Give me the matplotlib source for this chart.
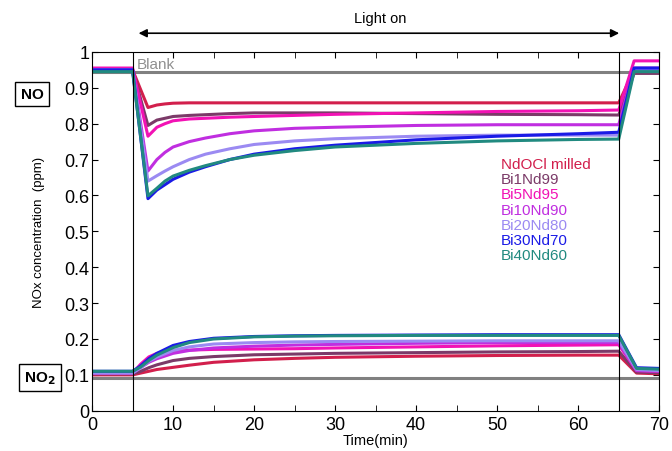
import matplotlib
matplotlib.use("Agg")
import matplotlib.pyplot as plt
from matplotlib.ticker import MultipleLocator

plt.rcParams["font.family"] = ["Liberation Sans", "DejaVu Sans"]

# sample names and colours
names = ["NdOCl milled", "Bi1Nd99", "Bi5Nd95", "Bi10Nd90", "Bi20Nd80", "Bi30Nd70", "Bi40Nd60"]
colors = ["#d21f4c", "#7b3a68", "#f212b4", "#c02ee0", "#9b8af2", "#1a1ae6", "#218a80"]

# NO trace (ppm)
t_no = [0, 5, 6.9, 8, 9, 10, 12, 14, 17, 20, 25, 30, 40, 50, 60, 65, 66.9, 70]
no_vals = [
    [0.950, 0.950, 0.845, 0.852, 0.855, 0.857, 0.858, 0.858, 0.858, 0.858, 0.858, 0.858, 0.858, 0.858, 0.858, 0.858, 0.950, 0.950],
    [0.950, 0.950, 0.795, 0.810, 0.815, 0.820, 0.823, 0.825, 0.828, 0.830, 0.830, 0.830, 0.828, 0.826, 0.825, 0.824, 0.940, 0.940],
    [0.955, 0.955, 0.765, 0.790, 0.800, 0.808, 0.813, 0.815, 0.818, 0.820, 0.823, 0.826, 0.830, 0.834, 0.836, 0.838, 0.975, 0.975],
    [0.950, 0.950, 0.668, 0.700, 0.720, 0.735, 0.750, 0.760, 0.772, 0.780, 0.787, 0.790, 0.795, 0.797, 0.797, 0.797, 0.955, 0.955],
    [0.950, 0.950, 0.640, 0.655, 0.668, 0.680, 0.700, 0.715, 0.730, 0.742, 0.752, 0.758, 0.765, 0.768, 0.768, 0.768, 0.950, 0.950],
    [0.950, 0.950, 0.591, 0.615, 0.630, 0.645, 0.665, 0.680, 0.700, 0.715, 0.730, 0.740, 0.755, 0.765, 0.772, 0.776, 0.955, 0.955],
    [0.945, 0.945, 0.599, 0.620, 0.640, 0.654, 0.670, 0.683, 0.700, 0.712, 0.725, 0.735, 0.745, 0.752, 0.756, 0.757, 0.945, 0.945],
]

# NO2 trace (ppm)
t_no2 = [0, 5, 6, 7, 8, 10, 12, 15, 20, 25, 30, 40, 50, 60, 65, 67.2, 70]
no2_vals = [
    [0.100, 0.100, 0.105, 0.110, 0.115, 0.121, 0.127, 0.135, 0.142, 0.146, 0.149, 0.152, 0.154, 0.155, 0.155, 0.105, 0.103],
    [0.103, 0.103, 0.110, 0.120, 0.128, 0.140, 0.146, 0.151, 0.156, 0.158, 0.160, 0.162, 0.164, 0.165, 0.166, 0.108, 0.106],
    [0.105, 0.105, 0.130, 0.150, 0.160, 0.167, 0.169, 0.171, 0.172, 0.173, 0.175, 0.178, 0.181, 0.183, 0.184, 0.112, 0.110],
    [0.105, 0.105, 0.120, 0.135, 0.145, 0.160, 0.168, 0.175, 0.180, 0.183, 0.185, 0.188, 0.190, 0.190, 0.190, 0.112, 0.110],
    [0.105, 0.105, 0.120, 0.138, 0.150, 0.168, 0.178, 0.186, 0.190, 0.192, 0.193, 0.194, 0.195, 0.195, 0.195, 0.115, 0.112],
    [0.110, 0.110, 0.125, 0.145, 0.160, 0.182, 0.193, 0.202, 0.207, 0.209, 0.210, 0.211, 0.212, 0.212, 0.212, 0.120, 0.118],
    [0.110, 0.110, 0.122, 0.140, 0.155, 0.176, 0.190, 0.200, 0.206, 0.208, 0.209, 0.210, 0.210, 0.210, 0.210, 0.118, 0.116],
]

# blank run
t_blank = [0, 70]
blank_no = [0.943, 0.943]
blank_no2 = [0.090, 0.090]

light_on = 5
light_off = 65

fig = plt.figure(figsize=(6.72, 4.52), dpi=100)
ax = fig.add_axes([0.137, 0.089, 0.844, 0.794])

ax.plot(t_blank, blank_no, color="#808080", lw=2.2)
ax.plot(t_blank, blank_no2, color="#808080", lw=2.2)
for vals, c in zip(no_vals, colors):
    ax.plot(t_no, vals, color=c, lw=2.2)
for vals, c in zip(no2_vals, colors):
    ax.plot(t_no2, vals, color=c, lw=2.2)

ax.axvline(light_on, color="black", lw=0.8)
ax.axvline(light_off, color="black", lw=0.8)

ax.set_xlim(0, 70)
ax.set_ylim(0, 1)
ax.xaxis.set_minor_locator(MultipleLocator(5))
ax.tick_params(which="both", direction="in", top=True, right=True, labelsize=13, length=4, pad=2)
ax.tick_params(axis="x", pad=4)
ax.set_xticks(range(0, 71, 10))
ax.set_xticklabels([str(v) for v in range(0, 71, 10)])
ax.set_yticks([i / 10 for i in range(11)])
ax.set_yticklabels([f"{i / 10:g}" for i in range(11)])

ax.set_xlabel("Time(min)", fontsize=10.5, labelpad=0)
ax.set_ylabel("NOx concentration  (ppm)", fontsize=9.5, labelpad=14)

ax.text(5.5, 0.965, "Blank", color="#909090", fontsize=11, va="center")

for i, (n, c) in enumerate(zip(names, colors)):
    ax.text(50.5, 0.688 - i * 0.0425, n, color=c, fontsize=11, va="center")

# light-on arrow above the plot
ax.annotate("", xy=(light_on + 0.4, 1.052), xytext=(light_off + 0.4, 1.052),
            arrowprops=dict(arrowstyle="<|-|>", color="black", lw=1.2, mutation_scale=12),
            annotation_clip=False)
ax.text(35.5, 1.095, "Light on", fontsize=10.5, ha="center", va="center")

box = dict(boxstyle="square,pad=0.35", fc="white", ec="black", lw=1)
fig.text(0.048, 0.79, "NO", fontsize=11, fontweight="bold", ha="center", va="center", bbox=box)
fig.text(0.059, 0.163, "NO$_\\mathbf{2}$", fontsize=11, fontweight="bold", ha="center", va="center", bbox=box)

fig.savefig("out.png", dpi=100)
